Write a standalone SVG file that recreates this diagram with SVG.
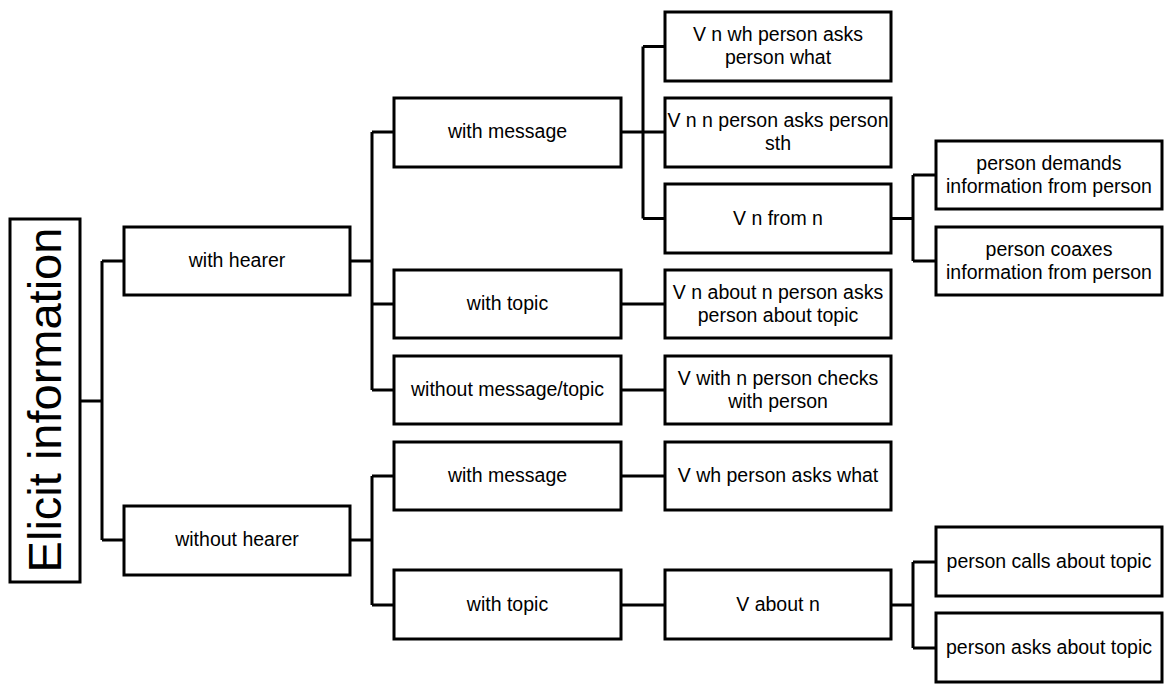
<svg xmlns="http://www.w3.org/2000/svg" width="1168" height="691" viewBox="0 0 1168 691">
<style>
.box{fill:#fff;stroke:#000;stroke-width:3}
.t{font-family:"Liberation Sans",Arial,sans-serif;font-size:19.5px;fill:#000;text-anchor:middle}
.root{font-family:"Liberation Sans",Arial,sans-serif;font-size:47px;fill:#000;text-anchor:middle}
.c path{fill:none;stroke:#000;stroke-width:3}
</style>
<rect width="1168" height="691" fill="#fff"/>
<g class="c" id="connectors">
<path d="M80 401H102M102 261V540M102 261H124M102 540H124"/>
<path d="M350 261H372M372 132V390M372 132H394M372 304H394M372 390H394"/>
<path d="M350 540H372M372 476V605M372 476H394M372 605H394"/>
<path d="M621 132H643M643 46.5V218.5M643 46.5H665M643 132H665M643 218.5H665"/>
<path d="M621 304H665M621 390H665M621 476H665M621 605H665"/>
<path d="M891 218.5H913M913 175V261M913 175H936M913 261H936"/>
<path d="M891 605H913M913 562V648M913 562H936M913 648H936"/>
</g>
<g id="root"><rect class="box" x="10" y="219" width="70" height="363"/><text class="root" transform="translate(61,400) rotate(-90)">Elicit information</text></g>
<g id="with-hearer"><rect class="box" x="124" y="227" width="226" height="68"/><text class="t" x="237" y="267">with hearer</text></g>
<g id="without-hearer"><rect class="box" x="124" y="506" width="226" height="69"/><text class="t" x="237" y="546">without hearer</text></g>
<g id="with-message-1"><rect class="box" x="394" y="98" width="227" height="69"/><text class="t" x="507.5" y="138">with message</text></g>
<g id="with-topic-1"><rect class="box" x="394" y="270" width="227" height="68"/><text class="t" x="507.5" y="310">with topic</text></g>
<g id="without-message-topic"><rect class="box" x="394" y="356" width="227" height="68"/><text class="t" x="507.5" y="396">without message/topic</text></g>
<g id="with-message-2"><rect class="box" x="394" y="442" width="227" height="68"/><text class="t" x="507.5" y="482">with message</text></g>
<g id="with-topic-2"><rect class="box" x="394" y="570" width="227" height="69"/><text class="t" x="507.5" y="611">with topic</text></g>
<g id="v-n-wh"><rect class="box" x="665" y="12" width="226" height="69"/><text class="t" x="778" y="41">V n wh person asks</text><text class="t" x="778" y="64">person what</text></g>
<g id="v-n-n"><rect class="box" x="665" y="98" width="226" height="69"/><text class="t" x="778" y="127">V n n person asks person</text><text class="t" x="778" y="150">sth</text></g>
<g id="v-n-from-n"><rect class="box" x="665" y="184" width="226" height="69"/><text class="t" x="778" y="225">V n from n</text></g>
<g id="v-n-about-n"><rect class="box" x="665" y="270" width="226" height="68"/><text class="t" x="778" y="299">V n about n person asks</text><text class="t" x="778" y="322">person about topic</text></g>
<g id="v-with-n"><rect class="box" x="665" y="356" width="226" height="68"/><text class="t" x="778" y="385">V with n person checks</text><text class="t" x="778" y="408">with person</text></g>
<g id="v-wh"><rect class="box" x="665" y="442" width="226" height="68"/><text class="t" x="778" y="482">V wh person asks what</text></g>
<g id="v-about-n"><rect class="box" x="665" y="570" width="226" height="69"/><text class="t" x="778" y="611">V about n</text></g>
<g id="person-demands"><rect class="box" x="936" y="141" width="226" height="68"/><text class="t" x="1049" y="170">person demands</text><text class="t" x="1049" y="193">information from person</text></g>
<g id="person-coaxes"><rect class="box" x="936" y="227" width="226" height="68"/><text class="t" x="1049" y="256">person coaxes</text><text class="t" x="1049" y="279">information from person</text></g>
<g id="person-calls"><rect class="box" x="936" y="527" width="226" height="69"/><text class="t" x="1049" y="568">person calls about topic</text></g>
<g id="person-asks"><rect class="box" x="936" y="613" width="226" height="69"/><text class="t" x="1049" y="654">person asks about topic</text></g>
</svg>
